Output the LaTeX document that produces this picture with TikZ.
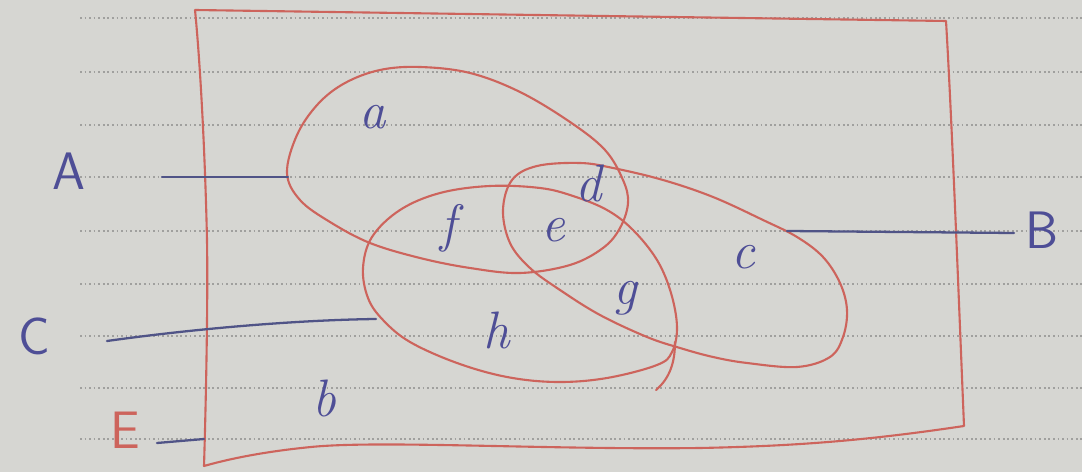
\documentclass[tikz,border=0pt]{standalone}
\definecolor{paper}{RGB}{214,214,210}
\definecolor{rulecol}{RGB}{160,160,158}
\definecolor{pen}{RGB}{205,100,92}
\definecolor{ink}{RGB}{78,78,150}
\definecolor{wireink}{RGB}{80,84,135}
\begin{document}
\begin{tikzpicture}[x=0.02cm,y=-0.02cm,
  redline/.style={draw=pen, line width=1.2pt, line join=round, line cap=round},
  capl/.style={text=ink, font=\fontsize{30}{32}\selectfont\sffamily, inner sep=0pt},
  regl/.style={text=ink, font=\fontsize{30}{32}\selectfont\itshape, inner sep=0pt},
  wire/.style={draw=wireink, line width=1.3pt, line cap=round},
  paperline/.style={draw=rulecol, line width=1pt, dash pattern=on 1pt off 1.6pt}]
\fill[paper] (0,0) rectangle (1082,472);
\useasboundingbox (0,0) rectangle (1082,472);
% ruled paper
\foreach \y in {18,72,125,177,231,284,336,388,439}
  \draw[paperline] (80,\y) -- (1082,\y);
% universal set frame
\draw[redline] (195,10) -- (946,21) .. controls (952,120) and (960,330) .. (964,426)
  .. controls (870,440) and (800,446) .. (700,448)
  .. controls (550,450) and (380,440) .. (311,447)
  .. controls (260,452) and (225,460) .. (204,466)
  .. controls (206,400) and (208,300) .. (207,240)
  .. controls (205,150) and (200,60) .. (195,10);
% set A
\draw[redline] plot[smooth cycle, tension=0.6] coordinates {
  (287,173) (297,135) (318,104) (345,83) (380,70) (420,67) (470,73) (520,92)
  (570,122) (605,150) (623,180) (628,203) (620,228) (603,248) (570,265)
  (520,273) (470,268) (420,258) (370,243) (330,222) (300,200)};
% set B
\draw[redline] plot[smooth cycle, tension=0.6] coordinates {
  (503,210) (512,180) (537,166) (580,163) (613,168) (663,180) (713,197)
  (763,220) (797,237) (823,257) (840,283) (847,310) (843,337) (830,357)
  (797,367) (747,363) (713,357) (680,348) (647,337) (600,315) (560,290)
  (530,268) (510,243)};
% set C
\draw[redline] plot[smooth cycle, tension=0.6] coordinates {
  (363,268) (372,237) (400,210) (440,193) (490,186) (540,188) (573,196)
  (607,210) (633,230) (657,260) (671,293) (677,327) (672,352) (657,365)
  (607,378) (557,382) (507,377) (457,363) (410,342) (383,320) (368,298)};
\draw[redline] (675,342) .. controls (675,362) and (670,378) .. (656,390);
% labels
\node[capl] (A) at (69,171) {A};
\node[capl] (B) at (1042,230) {B};
\node[capl] (C) at (34,336) {C};
\node[capl, text=pen] (E) at (125,430) {E};
\node[regl] (a) at (373,117) {a};
\node[regl] (b) at (324,398) {b};
\node[regl] (c) at (743,257) {c};
\node[regl] (d) at (589,183) {d};
\node[regl] (e) at (553,230) {e};
\node[regl] (f) at (448,228) {f};
\node[regl] (g) at (625,298) {g};
\node[regl] (h) at (497,330) {h};
% connector ends
\coordinate (As) at (162,177);
\coordinate (Ae) at (288,177);
\coordinate (Bs) at (787,231);
\coordinate (Be) at (1014,233);
\coordinate (Cs) at (107,341);
\coordinate (Ce) at (376,319);
\coordinate (Es) at (157,443);
\coordinate (Ee) at (204,439);
\draw[wire] (As) -- (Ae);
\draw[wire] (Bs) -- (Be);
\draw[wire] (Cs) .. controls (200,328) and (300,320) .. (Ce);
\draw[wire] (Es) -- (Ee);
\end{tikzpicture}
\end{document}
